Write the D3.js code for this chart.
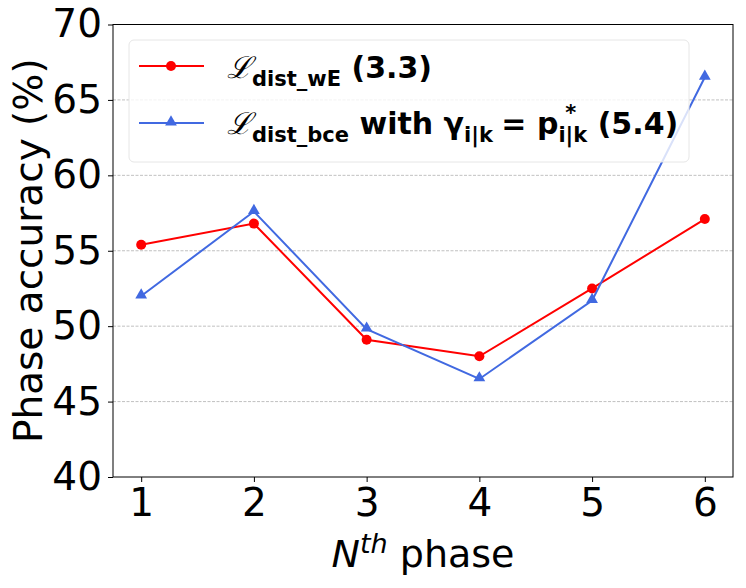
<!DOCTYPE html>
<html>
<head>
<meta charset="utf-8">
<script src="https://cdn.jsdelivr.net/npm/d3@7"></script>
<style>
  body { margin: 0; background: #fff; }
  text { font-family: "DejaVu Sans", sans-serif; }
</style>
</head>
<body>
<div id="chart"></div>
<script>
// data
let phases = [1, 2, 3, 4, 5, 6];
let distWE = [55.4, 56.8, 49.1, 48.0, 52.5, 57.1];
let distBce = [52.0, 57.6, 49.8, 46.5, 51.7, 66.5];
let yTicks = [40, 45, 50, 55, 60, 65, 70];

let W = 746, H = 588;
let margin = { top: 24.5, right: 13, bottom: 111, left: 113 };

let svg = d3.select("#chart").append("svg")
  .attr("width", W)
  .attr("height", H);

let x = d3.scaleLinear().domain([0.75, 6.25]).range([margin.left, W - margin.right]);
let y = d3.scaleLinear().domain([40, 70]).range([H - margin.bottom, margin.top]);

// grid
svg.append("g").selectAll("line")
  .data(yTicks.filter(d => d > 40 && d < 70))
  .enter().append("line")
  .attr("x1", x.range()[0]).attr("x2", x.range()[1])
  .attr("y1", d => y(d)).attr("y2", d => y(d))
  .attr("stroke", "#b0b0b0")
  .attr("stroke-width", 0.8)
  .attr("stroke-dasharray", "3,1.5");

// axes
let xAxis = svg.append("g")
  .attr("transform", "translate(0," + y(40) + ")")
  .call(d3.axisBottom(x).tickValues(phases).tickFormat(d3.format("d")).tickSize(5).tickPadding(4).tickSizeOuter(0));
let yAxis = svg.append("g")
  .attr("transform", "translate(" + x(0.75) + ",0)")
  .call(d3.axisLeft(y).tickValues(yTicks).tickSize(5).tickPadding(6).tickSizeOuter(0));

[xAxis, yAxis].forEach(a => {
  a.select(".domain").remove();
  a.selectAll("text").style("font-size", "39px").attr("fill", "#000").style("font-family", "DejaVu Sans");
  a.selectAll("line").attr("stroke", "#000").attr("stroke-width", 1);
});
xAxis.selectAll("text").attr("dy", "0.76em");

// frame
svg.append("rect")
  .attr("x", x(0.75)).attr("y", y(70))
  .attr("width", x(6.25) - x(0.75)).attr("height", y(40) - y(70))
  .attr("fill", "none").attr("stroke", "#000").attr("stroke-width", 1);

// lines
let line = d3.line().x((d, i) => x(phases[i])).y(d => y(d));

svg.append("path").datum(distWE)
  .attr("d", line).attr("fill", "none")
  .attr("stroke", "#ff0000").attr("stroke-width", 2);
svg.append("g").selectAll("circle").data(distWE).enter().append("circle")
  .attr("cx", (d, i) => x(phases[i])).attr("cy", d => y(d))
  .attr("r", 5).attr("fill", "#ff0000");

svg.append("path").datum(distBce)
  .attr("d", line).attr("fill", "none")
  .attr("stroke", "#4169e1").attr("stroke-width", 2);
let tri = d3.symbol().type(d3.symbolTriangle).size(60);
svg.append("g").selectAll("path").data(distBce).enter().append("path")
  .attr("d", tri)
  .attr("transform", (d, i) => "translate(" + x(phases[i]) + "," + (y(d) - 1) + ")")
  .attr("fill", "#4169e1");

// axis labels
svg.append("text")
  .attr("transform", "translate(42," + ((y(70) + y(40)) / 2) + ") rotate(-90)")
  .attr("text-anchor", "middle")
  .style("font-size", "39px")
  .text("Phase accuracy (%)");

let xl = svg.append("text")
  .attr("x", (x(0.75) + x(6.25)) / 2)
  .attr("y", 567)
  .attr("text-anchor", "middle")
  .style("font-size", "38px");
xl.append("tspan").style("font-style", "italic").text("N");
xl.append("tspan").attr("dy", -14).style("font-style", "italic").style("font-size", "27px").text("th");
xl.append("tspan").attr("dy", 14).text(" phase");

// legend
let lg = svg.append("g");
lg.append("rect")
  .attr("x", 129).attr("y", 40).attr("width", 560).attr("height", 122)
  .attr("rx", 5)
  .attr("fill", "#fff").attr("fill-opacity", 0.8)
  .attr("stroke", "#e6e6e6").attr("stroke-width", 1);

lg.append("line").attr("x1", 139).attr("x2", 204).attr("y1", 66).attr("y2", 66)
  .attr("stroke", "#ff0000").attr("stroke-width", 2);
lg.append("circle").attr("cx", 171).attr("cy", 66).attr("r", 5).attr("fill", "#ff0000");
lg.append("line").attr("x1", 139).attr("x2", 204).attr("y1", 123).attr("y2", 123)
  .attr("stroke", "#4169e1").attr("stroke-width", 2);
lg.append("path").attr("d", tri).attr("transform", "translate(171,122)").attr("fill", "#4169e1");

let fs = 30, sub = 21, sd = 8;

let t1 = lg.append("text").attr("x", 227).attr("y", 78)
  .style("font-size", fs + "px").style("font-weight", "bold");
t1.append("tspan").style("font-family", "DejaVu Serif").style("font-style", "italic").style("font-weight", "normal").text("ℒ");
t1.append("tspan").attr("dy", sd).style("font-size", sub + "px").text("dist_wE");
t1.append("tspan").attr("dy", -sd).text(" (3.3)");

let t2 = lg.append("text").attr("x", 227).attr("y", 134)
  .style("font-size", fs + "px").style("font-weight", "bold");
t2.append("tspan").style("font-family", "DejaVu Serif").style("font-style", "italic").style("font-weight", "normal").text("ℒ");
t2.append("tspan").attr("dy", sd).style("font-size", sub + "px").text("dist_bce");
t2.append("tspan").attr("dy", -sd).text(" with γ");
t2.append("tspan").attr("dy", sd).style("font-size", sub + "px").text("i|k");
t2.append("tspan").attr("dy", -sd).attr("dx", -2).text(" = p");
let pSub = t2.append("tspan").attr("dy", sd).style("font-size", sub + "px").text("i|k");
let subW = pSub.node().getComputedTextLength();
// star superscript sits above the subscript
let star = t2.append("tspan").attr("dy", -sd - 14).style("font-size", sub + "px").text("*");
let starW = star.node().getComputedTextLength();
star.attr("dx", -(subW + starW) / 2 - 2);
t2.append("tspan").attr("dy", 14).attr("dx", (subW - starW) / 2 + 2).text(" (5.4)");
</script>
</body>
</html>
